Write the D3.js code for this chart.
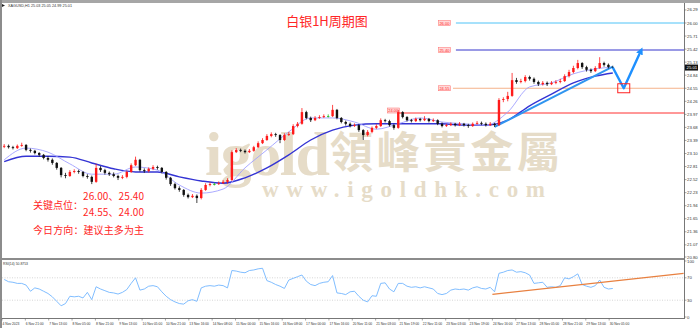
<!DOCTYPE html>
<html lang="zh">
<head>
<meta charset="UTF-8">
<title>白银1H周期图</title>
<script src="https://cdn.jsdelivr.net/npm/d3@7"></script>
<style>
  html, body { margin: 0; padding: 0; background: #fff; }
  svg { display: block; }
  .ax { font-family: 'Liberation Sans', sans-serif; font-size: 4.3px; fill: #333; }
  .tm { font-size: 3.3px; }
  .cn { font-family: 'Noto Sans CJK SC', sans-serif; }
</style>
</head>
<body>
<svg id="chart" width="700" height="328"></svg>
<script>
// ---- data (3-hour candles) ----
const firstOpen = 23.25;
const closes = [
  23.27,23.24,23.22,23.27,23.29,23.18,23.16,23.11,23.07,23.00,
  22.96,22.89,22.78,22.62,22.60,22.69,22.71,22.69,22.60,22.58,
  22.47,22.78,22.73,22.67,22.64,22.60,22.56,22.58,22.69,22.84,
  22.96,22.73,22.71,22.76,22.80,22.78,22.69,22.56,22.42,22.33,
  22.29,22.18,22.13,22.16,22.11,22.29,22.40,22.42,22.42,22.44,
  22.47,22.51,23.13,23.18,23.16,23.13,23.16,23.24,23.33,23.40,
  23.49,23.53,23.51,23.40,23.51,23.53,23.71,23.76,24.02,23.89,
  23.84,23.89,23.91,23.93,23.93,24.07,23.89,23.80,23.76,23.71,
  23.73,23.62,23.51,23.58,23.67,23.71,23.84,23.82,23.73,23.67,
  24.02,23.91,23.84,23.82,23.87,23.84,23.87,23.82,23.84,23.76,
  23.71,23.73,23.76,23.73,23.76,23.73,23.71,23.76,23.78,23.76,
  23.73,23.76,23.73,24.29,24.31,24.38,24.73,24.69,24.71,24.80,
  24.76,24.69,24.64,24.67,24.64,24.67,24.69,24.71,24.82,24.91,
  25.00,25.11,25.02,24.96,24.93,25.00,25.11,25.07,25.02,25.01
];
const highs = [
  23.31,23.30,23.27,23.30,23.34,23.31,23.21,23.18,23.13,23.09,
  23.04,22.99,22.91,22.80,22.67,22.73,22.75,22.74,22.71,22.64,
  22.61,22.87,22.82,22.76,22.70,22.68,22.63,22.62,22.72,22.88,
  23.03,22.98,22.77,22.79,22.84,22.83,22.80,22.71,22.58,22.45,
  22.37,22.31,22.21,22.20,22.19,22.33,22.44,22.46,22.45,22.48,
  22.51,22.55,23.17,23.22,23.21,23.19,23.20,23.27,23.37,23.44,
  23.53,23.57,23.56,23.53,23.55,23.58,23.75,23.80,24.11,24.05,
  23.92,23.93,23.95,23.97,23.97,24.18,24.09,23.91,23.83,23.79,
  23.77,23.75,23.64,23.62,23.70,23.75,23.88,23.87,23.85,23.76,
  24.07,24.04,23.93,23.87,23.90,23.89,23.93,23.89,23.88,23.86,
  23.79,23.76,23.79,23.78,23.80,23.78,23.76,23.79,23.82,23.81,
  23.79,23.80,23.78,24.33,24.35,24.47,24.89,24.78,24.76,24.84,
  24.83,24.79,24.72,24.71,24.70,24.71,24.73,24.76,24.86,24.96,
  25.05,25.18,25.13,25.05,24.99,25.04,25.24,25.14,25.10,25.05
];
const lows = [
  23.22,23.21,23.19,23.20,23.25,23.15,23.12,23.08,23.03,22.97,
  22.92,22.85,22.74,22.57,22.55,22.58,22.66,22.65,22.57,22.54,
  22.42,22.45,22.69,22.63,22.60,22.57,22.51,22.53,22.55,22.67,
  22.82,22.70,22.67,22.68,22.73,22.74,22.66,22.52,22.38,22.30,
  22.25,22.14,22.10,22.11,22.00,22.08,22.27,22.37,22.39,22.40,
  22.42,22.43,22.49,23.11,23.13,23.10,23.11,23.14,23.22,23.31,
  23.38,23.46,23.47,23.33,23.38,23.49,23.51,23.68,23.74,23.86,
  23.80,23.82,23.87,23.89,23.90,23.91,23.86,23.77,23.72,23.68,
  23.69,23.58,23.40,23.48,23.55,23.64,23.69,23.79,23.70,23.63,
  23.65,23.88,23.81,23.79,23.80,23.81,23.82,23.79,23.80,23.73,
  23.68,23.69,23.71,23.70,23.71,23.70,23.67,23.69,23.74,23.73,
  23.70,23.71,23.69,23.71,24.24,24.26,24.36,24.65,24.66,24.68,
  24.72,24.65,24.60,24.61,24.60,24.62,24.64,24.66,24.69,24.79,
  24.88,24.97,24.98,24.92,24.89,24.91,24.98,25.03,24.99,24.99
];
// moving averages, one value every 5 candles (last one = last candle)
const maFast = [22.96,23.22,23.13,22.87,22.64,22.64,22.80,22.73,22.40,22.22,22.31,22.78,23.18,23.58,
  23.89,23.89,23.80,23.64,23.76,23.89,23.80,23.76,23.73,24.02,24.58,24.67,24.87,24.98,25.02];
const maSlow = [22.92,23.04,23.04,23.02,22.89,22.76,22.69,22.69,22.58,22.49,22.44,22.56,22.78,23.07,
  23.40,23.62,23.73,23.76,23.76,23.76,23.76,23.73,23.73,23.84,24.16,24.42,24.67,24.82,24.89];
const rsi = [
  67,63,62,60,60,57,46,52,50,46, 42,36,28,20,24,37,36,37,34,44,
  31,54,50,47,44,43,41,44,49,60, 70,48,50,55,56,54,45,37,31,27,
  24,23,29,31,28,52,55,56,55,57, 56,52,83,82,80,79,83,84,86,87,
  65,62,58,55,51,66,69,72,75,64, 58,56,60,62,63,74,43,42,40,45,
  46,37,30,27,38,37,60,61,50,45, 60,60,55,53,54,52,54,52,50,42,
  40,42,48,50,49,50,48,52,54,51, 50,53,45,78,80,83,84,80,81,79,
  75,60,61,62,53,54,53,56,70,68, 72,77,58,55,53,56,66,53,50,51
];
const timeLabels = ["4 Nov 2023","6 Nov 21:00","7 Nov 13:00","8 Nov 05:00","8 Nov 21:00","9 Nov 13:00",
  "10 Nov 05:00","10 Nov 21:00","13 Nov 16:00","14 Nov 08:00","15 Nov 00:00","15 Nov 16:00",
  "16 Nov 08:00","17 Nov 00:00","17 Nov 16:00","20 Nov 11:00","21 Nov 03:00","21 Nov 19:00",
  "22 Nov 11:00","23 Nov 03:00","23 Nov 19:00","24 Nov 16:00","27 Nov 13:00","28 Nov 05:00",
  "28 Nov 21:00","29 Nov 13:00","30 Nov 05:00"];
const priceTicks = [26.29,26.00,25.71,25.42,25.13,24.84,24.55,24.26,23.97,23.68,23.39,23.10,
  22.81,22.52,22.23,21.94,21.65,21.36,21.07,20.80];
const rsiTicks = [100, 70, 30, 0];
const keyLevels = [26.00, 25.40, 24.55, 24.00];
const forecast = [25.01, 24.55, 25.40];
const rsiTrend = [40.5, 78];

// ---- layout ----
const svg = d3.select('#chart');
const x = d3.scaleLinear().domain([0, 420]).range([2, 615]);   // hours
const y = d3.scaleLinear().domain([24, 26]).range([113, 23]);
const yr = d3.scaleLinear().domain([0, 100]).range([317, 261]);
const cx = i => x(3 * i + 1.5);
const axisX = 684;
const red = '#ff2626';

svg.append('rect').attr('width', 700).attr('height', 328).attr('fill', '#fff');

const defs = svg.append('defs');
defs.append('clipPath').attr('id', 'mainClip').append('rect')
  .attr('x', 2).attr('y', 3).attr('width', axisX - 2).attr('height', 255);
defs.append('clipPath').attr('id', 'rsiClip').append('rect')
  .attr('x', 2).attr('y', 260).attr('width', axisX - 2).attr('height', 58);
defs.append('marker').attr('id', 'ah').attr('viewBox', '0 0 10 10')
  .attr('refX', 6).attr('refY', 5).attr('markerWidth', 3).attr('markerHeight', 3)
  .attr('orient', 'auto')
  .append('path').attr('d', 'M0,0 L10,5 L0,10 z').attr('fill', '#1e90ff');

// watermark
const wm = svg.append('g').attr('fill', '#e6dcc8');
wm.append('text').attr('x', 205).attr('y', 175).attr('textLength', 125)
  .style('font-family', 'Liberation Serif').style('font-weight', 'bold').style('font-size', '62px')
  .text('igold');
wm.append('text').attr('x', 330).attr('y', 168).attr('textLength', 230)
  .style('font-family', "'Noto Sans CJK TC'").style('font-weight', 'bold').style('font-size', '43px')
  .text('領峰貴金屬');
wm.append('text').attr('x', 262).attr('y', 197).attr('textLength', 283)
  .style('font-family', 'Liberation Serif').style('font-weight', 'bold').style('font-size', '23px')
  .text('www.igoldhk.com');

const main = svg.append('g').attr('clip-path', 'url(#mainClip)');

// key level lines with small price tags
const levelColors = ['#4fc3f7', '#3535cc', '#f5b38a', '#ff3030'];
const levelStart = [311, 311, 309, 272];
const tagHour = [299, 299, 299, 264];
keyLevels.forEach((v, k) => {
  main.append('line').attr('x1', x(levelStart[k])).attr('x2', axisX)
    .attr('y1', y(v)).attr('y2', y(v)).attr('stroke', levelColors[k]).attr('stroke-width', 1);
  const tx = x(tagHour[k]), ty = y(v) - (k === 3 ? 2.5 : 0);
  main.append('rect').attr('x', tx).attr('y', ty - 2.5).attr('width', 12).attr('height', 5)
    .attr('fill', '#ffd9d9').attr('stroke', '#ff6b6b').attr('stroke-width', 0.5);
  main.append('text').attr('x', tx + 6).attr('y', ty + 1.5).attr('text-anchor', 'middle')
    .style('font-family', 'Liberation Sans').style('font-size', '4px').attr('fill', red)
    .text(v.toFixed(2));
});

// moving averages
const maIdx = k => (k < maFast.length - 1 ? 5 * k : closes.length - 1);
const maLine = d3.line().x((d, k) => cx(maIdx(k))).y(d => y(d)).curve(d3.curveMonotoneX);
main.append('path').datum(maSlow).attr('d', maLine)
  .attr('fill', 'none').attr('stroke', '#3434d4').attr('stroke-width', 1.4);
main.append('path').datum(maFast).attr('d', maLine)
  .attr('fill', 'none').attr('stroke', '#a0a0ff').attr('stroke-width', 0.9);

// trend line under the last leg
main.append('line')
  .attr('x1', cx(112)).attr('y1', y(lows[112]))
  .attr('x2', cx(closes.length - 1)).attr('y2', y(closes[closes.length - 1]) - 1)
  .attr('stroke', '#2f95f0').attr('stroke-width', 2);

// candles
const opens = closes.map((c, i) => (i === 0 ? firstOpen : closes[i - 1]));
const col = i => closes[i] > opens[i] ? '#ff1a1a' : (closes[i] < opens[i] ? '#111' : '#22bb22');
const cg = main.append('g');
cg.selectAll('line').data(closes).join('line')
  .attr('x1', (d, i) => cx(i)).attr('x2', (d, i) => cx(i))
  .attr('y1', (d, i) => y(highs[i])).attr('y2', (d, i) => y(lows[i]))
  .attr('stroke', (d, i) => col(i)).attr('stroke-width', 0.8);
cg.selectAll('rect').data(closes).join('rect')
  .attr('x', (d, i) => cx(i) - 1.2).attr('width', 2.4)
  .attr('y', (d, i) => y(Math.max(d, opens[i])))
  .attr('height', (d, i) => Math.max(0.8, Math.abs(y(d) - y(opens[i]))))
  .attr('fill', (d, i) => col(i));

// forecast path
const fHours = [418.5, 426, 438];
main.append('polyline')
  .attr('points', forecast.map((v, k) => `${x(fHours[k])},${y(v)}`).join(' '))
  .attr('fill', 'none').attr('stroke', '#1e90ff').attr('stroke-width', 2.4)
  .attr('stroke-linejoin', 'round').attr('marker-end', 'url(#ah)');
main.append('rect').attr('x', x(fHours[1]) - 6).attr('y', y(forecast[1]) - 4.5)
  .attr('width', 12).attr('height', 9).attr('fill', 'none').attr('stroke', '#ff2020').attr('stroke-width', 1);

// title and notes
svg.append('text').attr('class', 'cn').attr('x', 327).attr('y', 26).attr('text-anchor', 'middle')
  .style('font-size', '13px').attr('fill', red).text('白银1H周期图');
const notes = [
  { t: '26.00、25.40', x: 83, y: 200, w: 61 },
  { t: '关键点位：', x: 33, y: 209, w: 50 },
  { t: '24.55、24.00', x: 83, y: 216, w: 61 },
  { t: '今日方向：建议主多为主', x: 33, y: 234, w: 111 }
];
svg.selectAll('text.note').data(notes).join('text').attr('class', 'note cn')
  .attr('x', d => d.x).attr('y', d => d.y).attr('textLength', d => d.w)
  .attr('lengthAdjust', 'spacing').style('font-size', '10px').attr('fill', red)
  .text(d => d.t);

// header
svg.append('path').attr('d', 'M2,4 L5,5.5 L2,7 z').attr('fill', '#222');
svg.append('text').attr('class', 'ax').attr('x', 8).attr('y', 7).attr('textLength', 64)
  .attr('lengthAdjust', 'spacingAndGlyphs').attr('fill', '#666').text('XAGUSD,H1  25.03 25.05 24.99 25.01');

// RSI panel
const rsiG = svg.append('g').attr('clip-path', 'url(#rsiClip)');
[70, 30].forEach(v => rsiG.append('line').attr('x1', 2).attr('x2', axisX)
  .attr('y1', yr(v)).attr('y2', yr(v)).attr('stroke', '#bbb').attr('stroke-width', 0.6)
  .attr('stroke-dasharray', '1,1.5'));
rsiG.append('path').datum(rsi)
  .attr('d', d3.line().x((d, i) => cx(i)).y(d => yr(d)))
  .attr('fill', 'none').attr('stroke', '#72b6ff').attr('stroke-width', 0.9);
rsiG.append('line').attr('x1', x(336)).attr('y1', yr(rsiTrend[0]))
  .attr('x2', x(467)).attr('y2', yr(rsiTrend[1])).attr('stroke', '#e88040').attr('stroke-width', 1.3);
svg.append('text').attr('class', 'ax').attr('x', 3).attr('y', 265).attr('textLength', 25)
  .attr('lengthAdjust', 'spacingAndGlyphs').text('RSI(14) 50.8753');

// frame
svg.append('rect').attr('x', 0).attr('y', 0).attr('width', 700).attr('height', 3).attr('fill', '#a6a6a6');
svg.append('rect').attr('x', 0).attr('y', 0).attr('width', 2).attr('height', 328).attr('fill', '#8c8c8c');
svg.append('rect').attr('x', 0).attr('y', 258).attr('width', axisX).attr('height', 2).attr('fill', '#8c8c8c');
svg.append('line').attr('x1', 2).attr('x2', axisX).attr('y1', 318.5).attr('y2', 318.5)
  .attr('stroke', '#777').attr('stroke-width', 1);
svg.append('line').attr('x1', axisX + 0.5).attr('x2', axisX + 0.5).attr('y1', 3).attr('y2', 319)
  .attr('stroke', '#777').attr('stroke-width', 1);

// price axis
const pa = svg.append('g');
priceTicks.forEach(v => {
  pa.append('line').attr('x1', axisX).attr('x2', axisX + 2.5).attr('y1', y(v)).attr('y2', y(v))
    .attr('stroke', '#666').attr('stroke-width', 0.6);
  pa.append('text').attr('class', 'ax').attr('x', axisX + 3).attr('y', y(v) + 1.5).text(v.toFixed(2));
});
const last = closes[closes.length - 1];
pa.append('rect').attr('x', axisX + 1).attr('y', y(last) - 3).attr('width', 13).attr('height', 6).attr('fill', '#111');
pa.append('text').attr('class', 'ax').attr('x', axisX + 2.5).attr('y', y(last) + 1.5)
  .style('fill', '#fff').text(last.toFixed(2));
rsiTicks.forEach(v => {
  pa.append('line').attr('x1', axisX).attr('x2', axisX + 2.5).attr('y1', yr(v)).attr('y2', yr(v))
    .attr('stroke', '#666').attr('stroke-width', 0.6);
  pa.append('text').attr('class', 'ax').attr('x', axisX + 3).attr('y', yr(v) + 1.5).text(v);
});

// time axis
timeLabels.forEach((t, k) => {
  const tx = x(16 * k);
  svg.append('line').attr('x1', tx).attr('x2', tx).attr('y1', 318.5).attr('y2', 320.5)
    .attr('stroke', '#666').attr('stroke-width', 0.6);
  svg.append('text').attr('class', 'ax tm').attr('x', tx + 0.5).attr('y', 324.5).text(t);
});
</script>
</body>
</html>
